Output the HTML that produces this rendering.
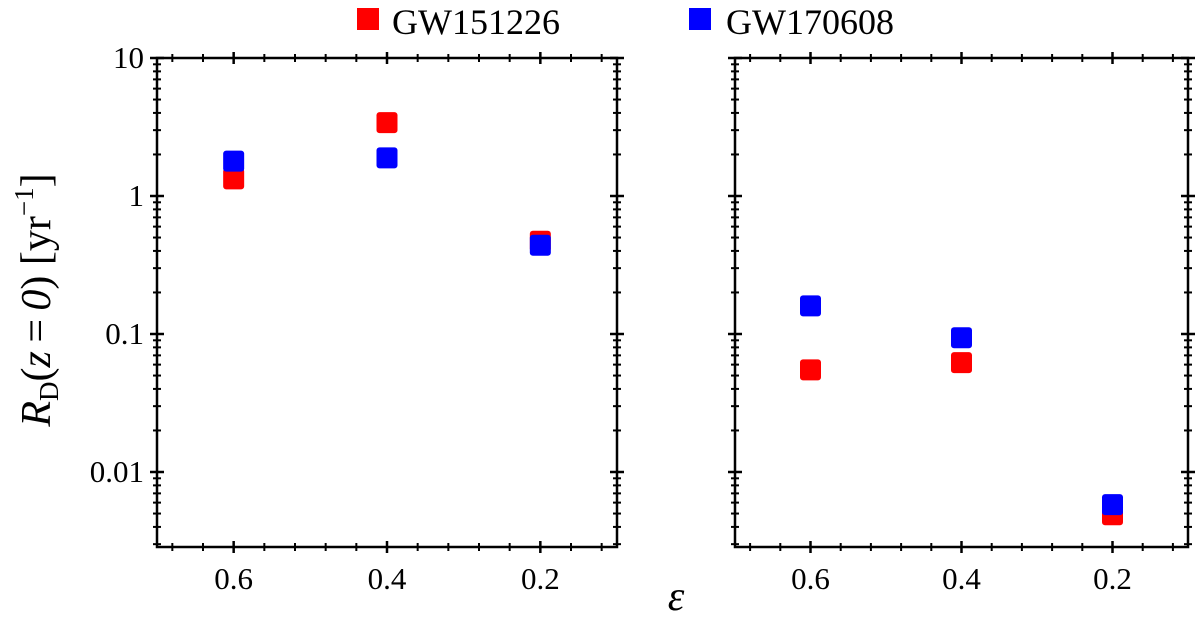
<!DOCTYPE html>
<html><head><meta charset="utf-8"><style>
html,body{margin:0;padding:0;background:#fff;}
svg{display:block;font-family:"Liberation Serif",serif;}
</style></head><body>
<svg id="chart" width="1200" height="623" viewBox="0 0 1200 623">
<g>
<rect x="357" y="8" width="22" height="22" fill="#f00"/>
<text x="392" y="34" font-size="36">GW151226</text>
<rect x="689" y="8" width="22" height="22" fill="#00f"/>
<text x="726" y="34" font-size="36">GW170608</text>
</g>
<text transform="translate(50,300) rotate(-90)" text-anchor="middle" font-size="42"><tspan font-style="italic">R</tspan><tspan font-size="27" dy="8">D</tspan><tspan dy="-8">(</tspan><tspan font-style="italic">z</tspan>&#8201;=&#8201;<tspan font-style="italic">0</tspan>) [yr<tspan font-size="27" dy="-17">−1</tspan><tspan dy="17">]</tspan></text>
<text x="676" y="610" text-anchor="middle" font-size="42" font-style="italic">ε</text>
<g id="plots"></g>
</svg>
<script>
const categories = [0.6, 0.4, 0.2];
const leftRed = [1.33, 3.4, 0.47];
const leftBlue = [1.79, 1.89, 0.44];
const rightRed = [0.055, 0.062, 0.0049];
const rightBlue = [0.16, 0.094, 0.0058];
const xTicks = ["0.6", "0.4", "0.2"];
const yTicks = ["10", "1", "0.1", "0.01"];

const NS = "http://www.w3.org/2000/svg";
const g = document.getElementById("plots");
const top_ = 58, bottom = 547;
const yTop = 1, yPx = 138;
function yScale(v){ return top_ + (yTop - Math.log10(v)) * yPx; }
const yMin = Math.pow(10, yTop - (bottom - top_) / yPx);

function mk(tag, attrs, parent){
  const e = document.createElementNS(NS, tag);
  for (const k in attrs) e.setAttribute(k, attrs[k]);
  (parent || g).appendChild(e);
  return e;
}

function panel(name, x0, x1, red, blue, labels){
  const xs = v => x0 + (0.7 - v) / 0.6 * (x1 - x0);
  const p = mk("g", {});
  
  
  const frame = mk("rect", {x:x0, y:top_, width:x1-x0, height:bottom-top_, fill:"none", stroke:"#000", "stroke-width":2.5}, p);
  
  
  for (let i = 0; i <= 15; i++){
    const v = 0.68 - i * 0.04;
    if (v < 0.1) break;
    const x = xs(v);
    const major = Math.abs(v - 0.6) < 1e-6 || Math.abs(v - 0.4) < 1e-6 || Math.abs(v - 0.2) < 1e-6;
    const L = major ? 6 : 4;
    [top_, bottom].forEach(yy => {
      const t = mk("line", {x1:x, x2:x, y1:yy-L, y2:yy+L, stroke:"#000", "stroke-width": major?2.5:2}, p);
      
      
    });
  }
  xTicks.forEach(s => {
    const t = mk("text", {x:xs(parseFloat(s)), y:bottom+42, "text-anchor":"middle", "font-size":31}, p);
    t.textContent = s;
    
    
  });
  for (let d = -3; d <= 1; d++){
    for (let m = 1; m <= 9; m++){
      const v = m * Math.pow(10, d);
      if (v < yMin || v > 10.0001) continue;
      const y = yScale(v);
      const major = m === 1;
      const L = major ? 7 : 4;
      [x0, x1].forEach(xx => {
        const t = mk("line", {x1:xx-L, x2:xx+L, y1:y, y2:y, stroke:"#000", "stroke-width": major?2.5:2}, p);
        
        
      });
    }
  }
  if (labels){
    yTicks.forEach(s => {
      const t = mk("text", {x:x0-13, y:yScale(parseFloat(s))+10, "text-anchor":"end", "font-size":31}, p);
      t.textContent = s;
      
      
    });
  }
  const sz = 21;
  [[red, "#f00", "gw151226"], [blue, "#00f", "gw170608"]].forEach(([arr, col, nm]) => {
    arr.forEach((v, i) => {
      const r = mk("rect", {x:xs(categories[i]) - sz/2, y:yScale(v) - sz/2, width:sz, height:sz, rx:3, fill:col}, p);
      
      
    });
  });
}
panel("left-panel", 157, 617, leftRed, leftBlue, true);
panel("right-panel", 735, 1188, rightRed, rightBlue, false);
</script>
</body></html>
